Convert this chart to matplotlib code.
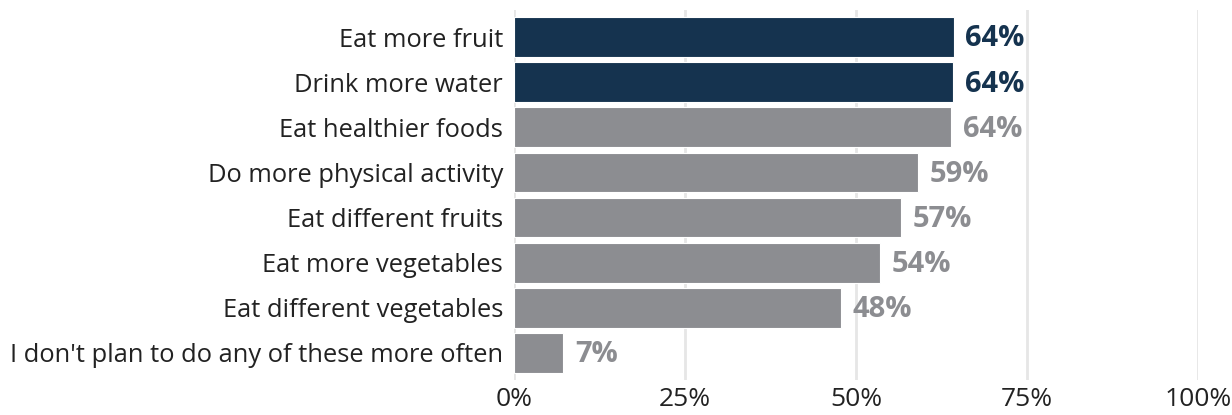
import numpy as np
from matplotlib import pyplot as plt
from matplotlib import font_manager as fm

plt.rcParams['font.family'] = ['Open Sans', 'DejaVu Sans']

labels = ["Eat more fruit", "Drink more water", "Eat healthier foods",
          "Do more physical activity", "Eat different fruits",
          "Eat more vegetables", "Eat different vegetables",
          "I don't plan to do any of these more often"]
values = [64.3, 64.2, 63.9, 59.1, 56.6, 53.5, 47.8, 7.2]
shown = ["64%", "64%", "64%", "59%", "57%", "54%", "48%", "7%"]
highlight = [True, True, False, False, False, False, False, False]
ticks = [0, 25, 50, 75, 100]

navy = "#15334f"
grey = "#8c8d91"

# pick the plain (not condensed) bold file
bold_file = [f.fname for f in fm.fontManager.ttflist
             if f.fname.endswith("OpenSans-Bold.ttf")]
if bold_file:
    bold = fm.FontProperties(fname=bold_file[0], size=21)
else:
    bold = fm.FontProperties(family="Open Sans", weight="bold", size=21)

fig = plt.figure(figsize=(12.32, 4.15), dpi=100)
ax = fig.add_axes([514/1232, 1-380/415, 684/1232, 370/415])

y = np.arange(len(labels))
colors = [navy if h else grey for h in highlight]
ax.barh(y, values, height=0.88, color=colors, edgecolor="white",
        linewidth=0.8, zorder=2)

for yi, v, s, c in zip(y, values, shown, colors):
    ax.text(v + 1.7, yi + 0.04, s, va="center", ha="left", fontproperties=bold,
            color=c)

ax.set_xlim(0, 100)
ax.set_ylim(7.6, -0.6)
ax.set_xticks(ticks)
ax.set_xticklabels([f"{t}%" for t in ticks], fontsize=19, color="#222222")
ax.set_yticks(y)
ax.set_yticklabels(labels, fontsize=18.4, color="#222222")
ax.tick_params(length=0, pad=8)
ax.tick_params(axis="x", pad=5)
ax.grid(axis="x", color="#e6e6e6", linewidth=2, zorder=0)
for sp in ax.spines.values():
    sp.set_visible(False)

fig.savefig("out.png", dpi=100)
